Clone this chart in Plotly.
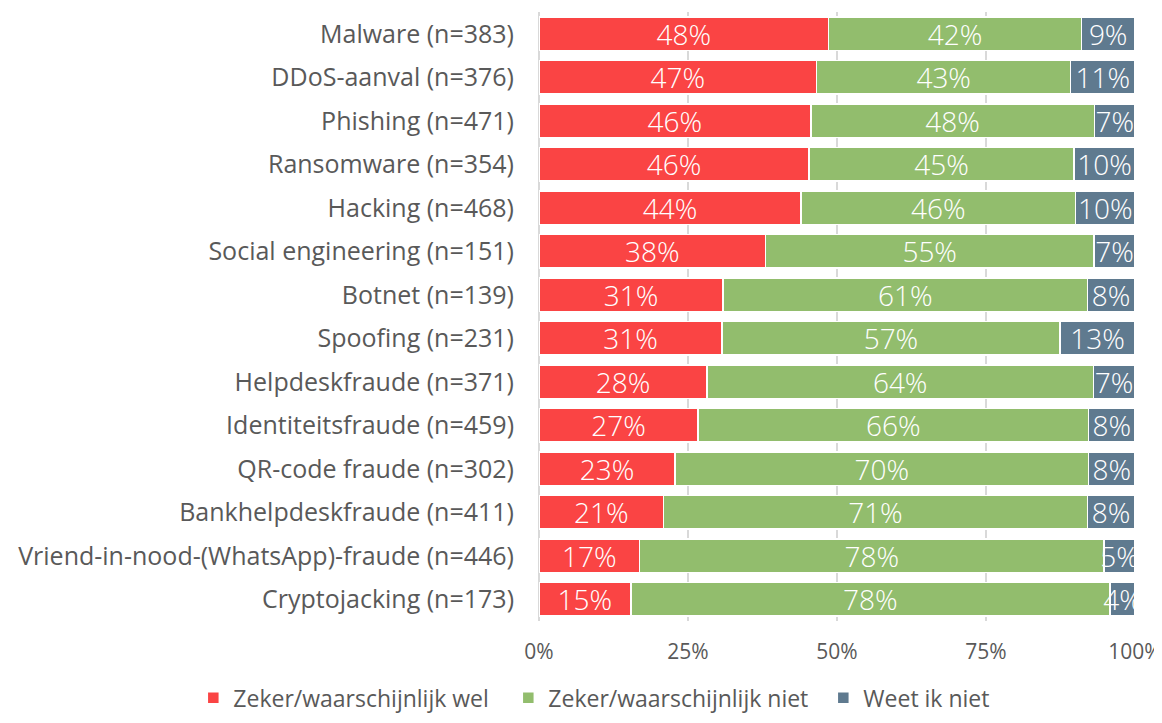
import plotly.graph_objects as go

categories = ['Malware (n=383)', 'DDoS-aanval (n=376)', 'Phishing (n=471)', 'Ransomware (n=354)',
              'Hacking (n=468)', 'Social engineering (n=151)', 'Botnet (n=139)', 'Spoofing (n=231)',
              'Helpdeskfraude (n=371)', 'Identiteitsfraude (n=459)', 'QR-code fraude (n=302)',
              'Bankhelpdeskfraude (n=411)', 'Vriend-in-nood-(WhatsApp)-fraude (n=446)',
              'Cryptojacking (n=173)']

wel = [48.6, 46.6, 45.6, 45.3, 44.0, 38.0, 30.9, 30.7, 28.2, 26.7, 22.8, 20.9, 16.9, 15.4]
niet = [42.4, 42.6, 47.6, 44.5, 46.0, 55.1, 61.1, 56.7, 64.8, 65.5, 69.4, 71.1, 77.9, 80.4]
weet = [9.0, 10.8, 6.8, 10.2, 10.0, 6.9, 8.0, 12.6, 7.0, 7.8, 7.8, 8.0, 5.2, 4.2]

wel_lbl = ['48%', '47%', '46%', '46%', '44%', '38%', '31%', '31%', '28%', '27%', '23%', '21%', '17%', '15%']
niet_lbl = ['42%', '43%', '48%', '45%', '46%', '55%', '61%', '57%', '64%', '66%', '70%', '71%', '78%', '78%']
weet_lbl = ['9%', '11%', '7%', '10%', '10%', '7%', '8%', '13%', '7%', '8%', '8%', '8%', '5%', '4%']

series = [
    ('Zeker/waarschijnlijk wel', wel, wel_lbl, '#FA4444'),
    ('Zeker/waarschijnlijk niet', niet, niet_lbl, '#92BD6D'),
    ('Weet ik niet', weet, weet_lbl, '#5F7A8F'),
]

fig = go.Figure()
for name, vals, lbls, color in series:
    fig.add_trace(go.Bar(
        y=categories, x=vals, name=name, orientation='h',
        marker=dict(color=color, line=dict(color='white', width=1.5)),
        text=lbls, textposition='inside', insidetextanchor='middle', textangle=0,
        constraintext='none', cliponaxis=True,
        textfont=dict(color='white', size=28, family='Open Sans', weight=300),
        hoverinfo='skip',
    ))

# page body has an 8px margin, so the figure is 8px smaller than the window
fig.update_layout(
    barmode='stack', bargap=0.23,
    width=1154, height=715,
    margin=dict(l=531, r=27, t=4, b=91),
    plot_bgcolor='white', paper_bgcolor='white',
    font=dict(family='Open Sans', color='#595959', size=22),
    uniformtext=dict(minsize=28, mode='show'),
    legend=dict(orientation='h', x=-0.58, xanchor='left',
                y=-0.126, yanchor='middle',
                font=dict(size=23, color='#595959'), itemwidth=30,
                entrywidth=270, traceorder='normal'),
)
fig.update_xaxes(range=[0, 100], tickvals=[0, 25, 50, 75, 100],
                 ticktext=['0%', '25%', '50%', '75%', '100%'],
                 showgrid=True, gridcolor='#D9D9D9', gridwidth=1.5,
                 zeroline=True, zerolinecolor='#D9D9D9', zerolinewidth=1.5,
                 tickfont=dict(size=21, color='#595959'), ticklabelstandoff=16,
                 automargin=False)
fig.update_yaxes(autorange='reversed', tickfont=dict(size=25, color='#595959'),
                 ticklabelstandoff=24, showgrid=False, automargin=False)

fig.write_html("out.html")
